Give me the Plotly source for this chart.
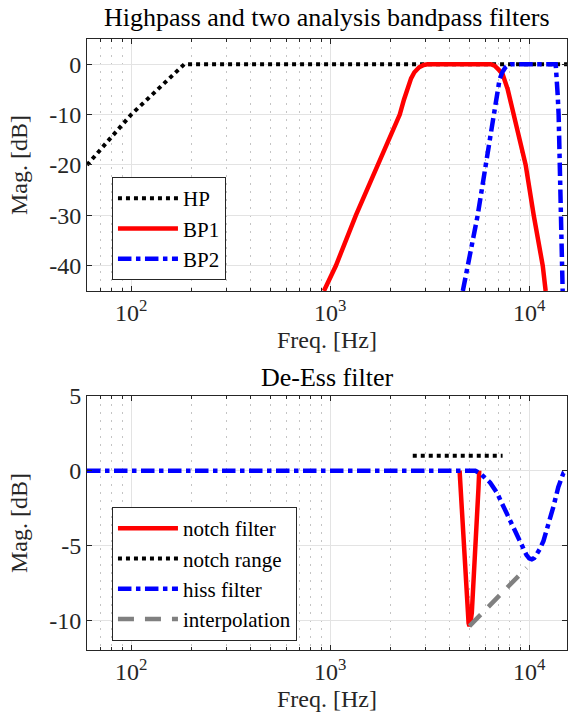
import plotly.graph_objects as go
import math

# top panel: highpass + two analysis bandpasses
hp_freq = [60, 100, 185, 16000]
hp_mag = [-20, -10, 0, 0]

bp1_freq = [930, 1068, 1346, 1737, 2000, 2237, 2350, 2450, 2550, 2650, 2800, 2950, 3090,
            6410, 6700, 7000, 7360, 7800, 8360, 9600, 10540, 11700, 12100]
bp1_mag = [-45, -40, -30, -20, -14.8, -10, -7, -4.6, -2.8, -1.6, -0.6, -0.15, 0,
           0, -0.3, -1, -2, -5, -10, -20, -30, -40, -45]

bp2_freq = [4640, 4910, 5510, 6050, 6630, 6900, 7100, 7350, 7600, 7850, 8070, 13590, 13750, 13900, 14060, 14400, 14730]
bp2_mag = [-45, -40, -30, -20, -10, -5.5, -3, -1.5, -0.6, -0.15, 0, 0, -2, -6, -10, -28, -45]

# bottom panel: de-ess filter
notch_freq = [4470, 4520, 4560, 4660, 4770, 4900, 4960, 5010, 5070, 5150, 5300, 5400, 5500, 5560, 5610]
notch_mag = [0, -1.2, -2.4, -4.6, -6.8, -9.5, -10.2, -10.4, -10.2, -9.5, -6.8, -4.6, -2.4, -1.2, 0]

range_freq = [2600, 7350]
range_mag = [1, 1]

hiss_freq = [60, 5360, 5700, 6000, 6370, 6900, 7430, 8000, 8510, 9000, 9360, 9700, 10000, 10310,
             10600, 10900, 11300, 11800, 12500, 13240, 14000, 14500, 14870, 15500]
hiss_mag = [0, 0, -0.2, -0.45, -0.8, -1.5, -2.4, -3.3, -4.1, -4.8, -5.3, -5.65, -5.87, -5.93,
            -5.85, -5.6, -5.25, -4.7, -3.6, -2.4, -1.1, -0.5, -0.15, 0]

interp_freq = [5010, 9700]
interp_mag = [-10.4, -6.5]

FONT = "Liberation Serif"
AX = "#262626"
FS = 24

fig = go.Figure()

fig.add_trace(go.Scatter(x=hp_freq, y=hp_mag, name="HP", mode="lines",
                         line=dict(color="black", width=4, dash="dot"),
                         xaxis="x", yaxis="y", legend="legend"))
fig.add_trace(go.Scatter(x=bp1_freq, y=bp1_mag, name="BP1", mode="lines",
                         line=dict(color="#ff0000", width=4.5),
                         xaxis="x", yaxis="y", legend="legend"))
fig.add_trace(go.Scatter(x=bp2_freq, y=bp2_mag, name="BP2", mode="lines",
                         line=dict(color="#0000ff", width=4.5, dash="dashdot"),
                         xaxis="x", yaxis="y", legend="legend"))

fig.add_trace(go.Scatter(x=notch_freq, y=notch_mag, name="notch filter", mode="lines",
                         line=dict(color="#ff0000", width=4.5),
                         xaxis="x2", yaxis="y2", legend="legend2"))
fig.add_trace(go.Scatter(x=range_freq, y=range_mag, name="notch range", mode="lines",
                         line=dict(color="black", width=4, dash="dot"),
                         xaxis="x2", yaxis="y2", legend="legend2"))
fig.add_trace(go.Scatter(x=hiss_freq, y=hiss_mag, name="hiss filter", mode="lines",
                         line=dict(color="#0000ff", width=4.5, dash="dashdot"),
                         xaxis="x2", yaxis="y2", legend="legend2"))
fig.add_trace(go.Scatter(x=interp_freq, y=interp_mag, name="interpolation", mode="lines",
                         line=dict(color="#808080", width=4.5, dash="16px,11px"),
                         xaxis="x2", yaxis="y2", legend="legend2"))

minor_vals = [m * 10 ** e for e in (1, 2, 3, 4) for m in range(2, 10)]

xax = dict(type="log", range=[math.log10(60), 4.19], automargin=False,
           tickvals=[100, 1000, 10000],
           ticktext=["10<sup>2</sup>", "10<sup>3</sup>", "10<sup>4</sup>"],
           ticks="inside", ticklen=5, tickcolor=AX,
           showline=True, linecolor=AX, linewidth=1, mirror="allticks",
           showgrid=True, gridcolor="#e3e3e3", gridwidth=1,
           minor=dict(tickvals=minor_vals, ticks="inside", ticklen=3, tickcolor=AX,
                      showgrid=True, gridcolor="#c4c4c4", griddash="2px,6px", gridwidth=1),
           tickfont=dict(family=FONT, size=FS, color=AX),
           title=dict(text="Freq. [Hz]", font=dict(family=FONT, size=FS, color=AX), standoff=6),
           zeroline=False)

yax = dict(ticks="inside", ticklen=5, tickcolor=AX, automargin=False,
           showline=True, linecolor=AX, linewidth=1, mirror="allticks",
           showgrid=True, gridcolor="#e3e3e3", zeroline=False,
           tickfont=dict(family=FONT, size=FS, color=AX),
           title=dict(text="Mag. [dB]", font=dict(family=FONT, size=FS, color=AX), standoff=14))

leg = dict(xanchor="left", yanchor="top", bgcolor="white", bordercolor=AX, borderwidth=1,
           font=dict(family=FONT, size=21, color="black"), tracegroupgap=0, itemwidth=60)

fig.update_layout(
    width=568, height=718,
    margin=dict(l=87, r=1, t=39, b=68),
    plot_bgcolor="white", paper_bgcolor="white",
    font=dict(family=FONT, color=AX),
    xaxis=dict(xax, domain=[0, 1], anchor="y"),
    xaxis2=dict(xax, domain=[0, 1], anchor="y2"),
    yaxis=dict(yax, domain=[0.5876, 1], range=[-45, 5],
               tickvals=[0, -10, -20, -30, -40], ticktext=["0", "-10", "-20", "-30", "-40"]),
    yaxis2=dict(yax, domain=[0, 0.4157], range=[-12, 5],
                tickvals=[5, 0, -5, -10], ticktext=["5", "0", "-5", "-10"]),
    legend=dict(leg, x=0.052, y=0.774),
    legend2=dict(leg, x=0.052, y=0.234),
    annotations=[
        dict(text="Highpass and two analysis bandpass filters", xref="paper", yref="paper",
             x=0.5, y=1.036, xanchor="center", yanchor="middle", showarrow=False,
             font=dict(family=FONT, size=26, color="black")),
        dict(text="De-Ess filter", xref="paper", yref="paper",
             x=0.5, y=0.4468, xanchor="center", yanchor="middle", showarrow=False,
             font=dict(family=FONT, size=26, color="black")),
    ],
)

fig.write_html("out.html", config={"displayModeBar": False},
               post_script="document.body.style.margin='0';")
